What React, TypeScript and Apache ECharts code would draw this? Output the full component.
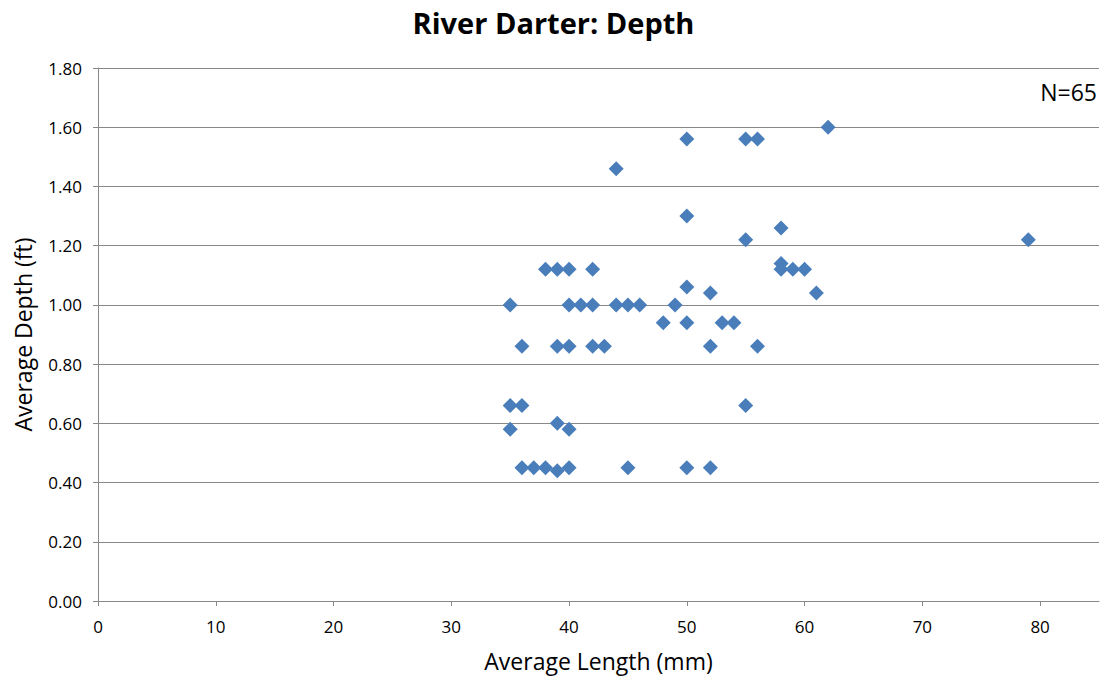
import React, { useEffect, useRef } from "react";
import * as echarts from "echarts";

const chartTitle = "River Darter: Depth";
const xAxisName = "Average Length (mm)";
const yAxisName = "Average Depth (ft)";
const sampleNote = "N=65";

// Average length (mm) of each sample
const lengths = [
  35, 35, 35,
  36, 36, 36,
  37,
  38, 38,
  39, 39, 39, 39,
  40, 40, 40, 40, 40,
  41,
  42, 42, 42,
  43,
  44, 44,
  45, 45,
  46,
  48,
  49,
  50, 50, 50, 50, 50,
  52, 52, 52,
  53,
  54,
  55, 55, 55,
  56, 56,
  58, 58, 58,
  59,
  60,
  61,
  62,
  79,
];

// Average depth (ft) of each sample
const depths = [
  1.0, 0.66, 0.58,
  0.86, 0.66, 0.45,
  0.45,
  1.12, 0.45,
  1.12, 0.86, 0.6, 0.44,
  1.12, 1.0, 0.86, 0.58, 0.45,
  1.0,
  1.12, 1.0, 0.86,
  0.86,
  1.46, 1.0,
  1.0, 0.45,
  1.0,
  0.94,
  1.0,
  1.56, 1.3, 1.06, 0.94, 0.45,
  1.04, 0.86, 0.45,
  0.94,
  0.94,
  1.56, 1.22, 0.66,
  1.56, 0.86,
  1.26, 1.14, 1.12,
  1.12,
  1.12,
  1.04,
  1.6,
  1.22,
];

const xTicks = [0, 10, 20, 30, 40, 50, 60, 70, 80];
const yTicks = [0, 0.2, 0.4, 0.6, 0.8, 1.0, 1.2, 1.4, 1.6, 1.8];

const FONT = "'Open Sans', 'DejaVu Sans', sans-serif";
const GRID_COLOR = "#888888";
const MARKER_COLOR = "#4A7EBB";

export default function App() {
  const ref = useRef<HTMLDivElement>(null);

  useEffect(() => {
    if (!ref.current) return;
    const chart = echarts.init(ref.current, null, { renderer: "svg" });
    const points = lengths.map((l, i) => [l, depths[i]]);

    chart.setOption({
      animation: false,
      backgroundColor: "#ffffff",
      textStyle: { fontFamily: FONT },
      title: {
        text: chartTitle,
        left: "center",
        top: 3,
        textStyle: {
          fontFamily: FONT,
          fontSize: 29,
          fontWeight: "bold",
          color: "#000000",
        },
      },
      grid: {
        left: 98,
        right: 8,
        top: 68,
        bottom: 81,
        containLabel: false,
      },
      xAxis: {
        type: "value",
        min: 0,
        max: 85,
        interval: 10,
        name: xAxisName,
        nameLocation: "middle",
        nameGap: 48,
        nameTextStyle: { fontFamily: FONT, fontSize: 23, color: "#000000" },
        axisLine: { show: true, onZero: false, lineStyle: { color: GRID_COLOR, width: 1 } },
        axisTick: {
          show: true,
          length: 5,
          customValues: xTicks,
          lineStyle: { color: GRID_COLOR },
        },
        axisLabel: {
          fontFamily: FONT,
          fontSize: 17,
          color: "#000000",
          margin: 17,
          customValues: xTicks,
          formatter: (v: number) => String(v),
        },
        splitLine: { show: false },
      },
      yAxis: {
        type: "value",
        min: 0,
        max: 1.8,
        interval: 0.2,
        name: yAxisName,
        nameLocation: "middle",
        nameGap: 64,
        nameRotate: 90,
        nameTextStyle: { fontFamily: FONT, fontSize: 23, color: "#000000" },
        axisLine: { show: true, lineStyle: { color: GRID_COLOR, width: 1 } },
        axisTick: { show: true, length: 5, lineStyle: { color: GRID_COLOR } },
        axisLabel: {
          fontFamily: FONT,
          fontSize: 17,
          color: "#000000",
          margin: 16,
          customValues: yTicks,
          formatter: (v: number) => v.toFixed(2),
        },
        splitLine: { show: true, lineStyle: { color: GRID_COLOR, width: 1 } },
      },
      graphic: [
        {
          type: "text",
          right: 10,
          top: 80,
          style: {
            text: sampleNote,
            fontFamily: FONT,
            fontSize: 23,
            fill: "#000000",
          },
        },
      ],
      series: [
        {
          type: "scatter",
          data: points,
          symbol: "diamond",
          symbolSize: 15,
          itemStyle: { color: MARKER_COLOR, opacity: 1 },
          emphasis: { disabled: true },
        },
      ],
    });

    return () => chart.dispose();
  }, []);

  return (
    <div
      ref={ref}
      style={{ position: "fixed", left: 0, top: 0, width: 1107, height: 682 }}
    />
  );
}
